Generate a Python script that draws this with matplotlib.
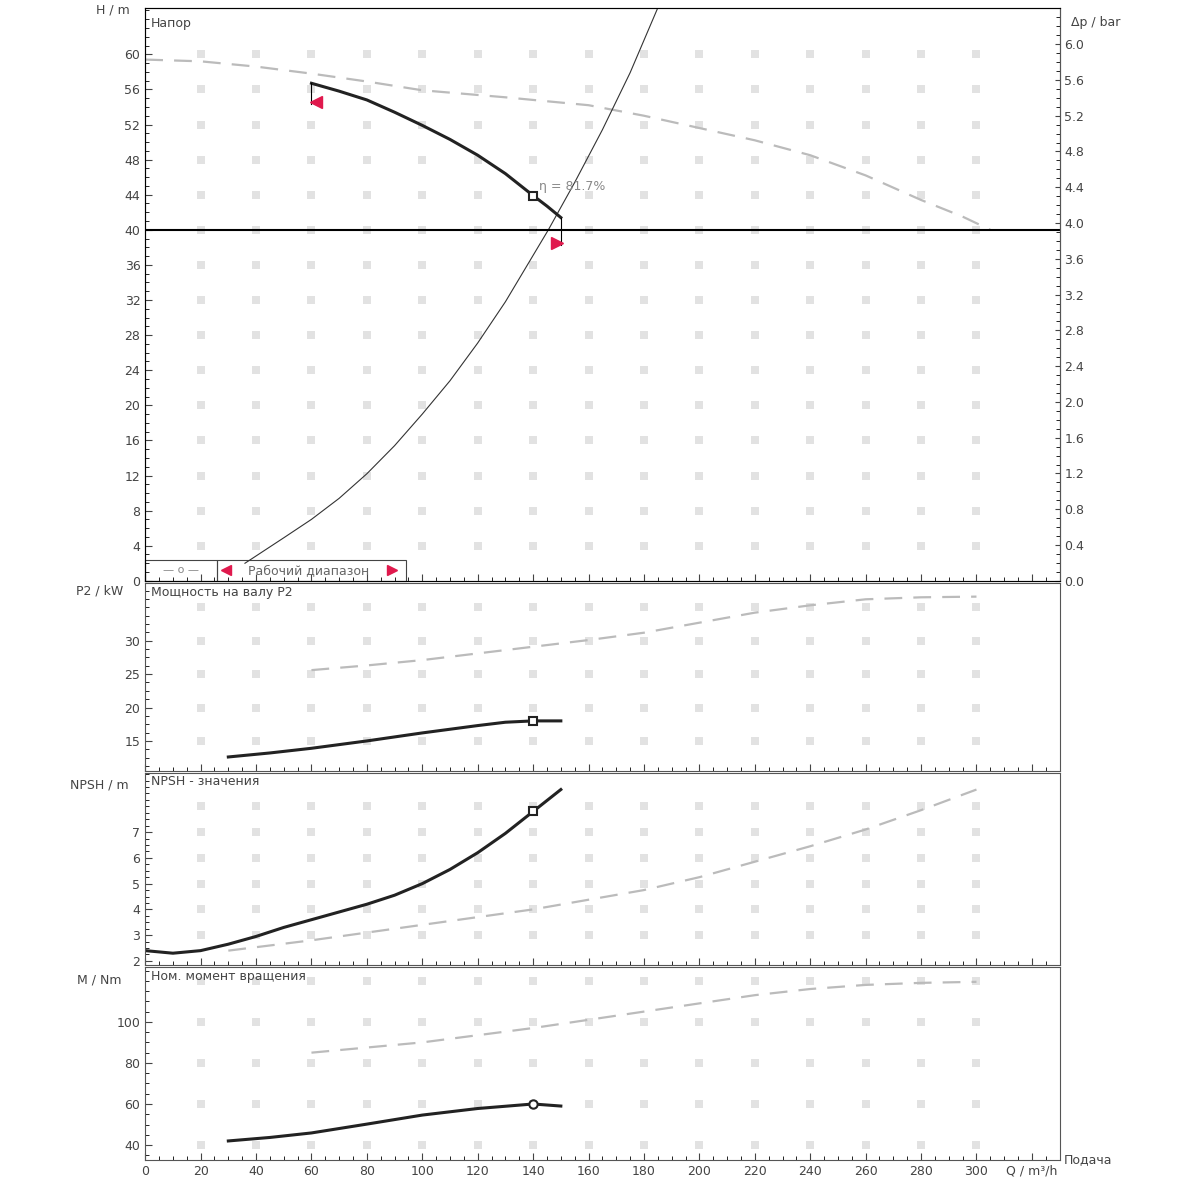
import matplotlib
matplotlib.use("Agg")
import matplotlib.pyplot as plt
import numpy as np
from matplotlib.ticker import MultipleLocator, AutoMinorLocator, FixedLocator

# ---- data ----
q_full_h = [0, 20, 40, 60, 80, 100, 130, 160, 180, 200, 220, 240, 260, 280, 295, 305]
h_full = [59.4, 59.2, 58.6, 57.8, 56.9, 55.9, 55.1, 54.2, 53.0, 51.6, 50.2, 48.5, 46.2, 43.4, 41.5, 40.0]
q_red_h = [60, 70, 80, 90, 100, 110, 120, 130, 140, 145, 150]
h_red = [56.7, 55.8, 54.8, 53.4, 51.9, 50.3, 48.5, 46.4, 43.9, 42.7, 41.4]
q_sys = [36, 50, 60, 70, 80, 90, 100, 110, 120, 130, 145.5, 155, 165, 175, 185]
h_sys = [2.0, 4.9, 7.0, 9.4, 12.2, 15.4, 19.0, 22.8, 27.1, 31.8, 40.0, 45.4, 51.4, 57.9, 65.3]
q_op, h_op = 140, 43.9
eta_label = "η = 81.7%"

q_p_full = [60, 80, 100, 120, 140, 160, 180, 200, 220, 240, 260, 280, 300]
p_full = [25.6, 26.3, 27.1, 28.1, 29.1, 30.1, 31.2, 32.7, 34.2, 35.3, 36.2, 36.5, 36.6]
q_p_red = [30, 45, 60, 80, 100, 120, 130, 140, 150]
p_red = [12.6, 13.2, 13.9, 15.0, 16.2, 17.3, 17.8, 18.0, 18.0]
p_op = 18.0

q_n_red = [0, 10, 20, 30, 40, 50, 60, 70, 80, 90, 100, 110, 120, 130, 140, 150]
n_red = [2.4, 2.3, 2.4, 2.65, 2.95, 3.3, 3.6, 3.9, 4.2, 4.55, 5.0, 5.55, 6.2, 6.95, 7.8, 8.65]
q_n_full = [30, 60, 100, 140, 180, 200, 220, 240, 260, 280, 300]
n_full = [2.4, 2.8, 3.4, 4.0, 4.75, 5.25, 5.85, 6.45, 7.1, 7.85, 8.65]
n_op = 7.8

q_m_red = [30, 45, 60, 80, 100, 120, 140, 150]
m_red = [42, 43.7, 45.9, 50.2, 54.6, 57.8, 60, 59]
q_m_full = [60, 80, 100, 120, 140, 160, 180, 200, 220, 240, 260, 280, 300]
m_full = [85, 87.5, 90, 93.5, 97, 101, 105, 109, 113, 116, 118, 119, 119.5]
m_op = 60

x_ticks = list(range(0, 301, 20))

fig = plt.figure(figsize=(12, 12), dpi=100)
L, W = 0.121, 0.762
axH = fig.add_axes([L, 0.516, W, 0.4775])
axP = fig.add_axes([L, 0.3575, W, 0.157])
axN = fig.add_axes([L, 0.196, W, 0.16])
axM = fig.add_axes([L, 0.0333, W, 0.161])

dash = dict(color="#bbbbbb", lw=1.6, ls=(0, (8, 5)))
solid = dict(color="#222222", lw=2.2)


def dots(ax, yvals):
    xs, ys = np.meshgrid(x_ticks[1:], yvals)
    ax.scatter(xs.ravel(), ys.ravel(), marker="s", s=40, color="#e2e2e2", lw=0, zorder=0)


for ax in (axH, axP, axN, axM):
    ax.set_xlim(0, 330)
    ax.xaxis.set_major_locator(MultipleLocator(20))
    ax.xaxis.set_minor_locator(MultipleLocator(5))
    ax.yaxis.set_minor_locator(AutoMinorLocator(4))
    ax.tick_params(labelsize=9, colors="#444444", direction="in", length=5)
    ax.tick_params(which="minor", direction="in", length=3)
    for s in ax.spines.values():
        s.set_color("#555555")
    if ax is not axM:
        ax.tick_params(labelbottom=False)

# Head
axH.set_ylim(0, 65.3)
axH.yaxis.set_major_locator(FixedLocator(list(range(0, 61, 4))))
axH.yaxis.set_minor_locator(MultipleLocator(1))
dots(axH, list(range(4, 61, 4)))
axH.plot(q_full_h, h_full, **dash)
axH.plot(q_sys, h_sys, color="#333333", lw=0.8)
axH.plot(q_red_h, h_red, **solid)
axH.axhline(40, color="black", lw=1.5)
axH.plot(q_op, h_op, "s", mfc="white", mec="#222222", ms=6, mew=1.5)
axH.text(q_op + 2, h_op + 0.6, eta_label, fontsize=9, color="#888888")
axH.plot([60, 60], [56.7, 54.3], color="black", lw=0.8)
axH.plot(61.5, 54.6, "<", color="#e0194d", ms=8)
axH.plot([150, 150], [41.4, 38.3], color="black", lw=0.8)
axH.plot(148.5, 38.5, ">", color="#e0194d", ms=8)
axH.text(2, 64.3, "Напор", fontsize=9, va="top", color="#444444")
axH.set_ylabel("H / m", rotation=0, fontsize=9, color="#444444")
axH.yaxis.set_label_coords(-0.035, 0.985)
axH.add_patch(plt.Rectangle((0, 0), 26, 2.4, fill=False, lw=0.8, ec="#444444", clip_on=False))
axH.add_patch(plt.Rectangle((26, 0), 68, 2.4, fill=False, lw=0.8, ec="#444444", clip_on=False))
axH.text(13, 1.2, "— o —", fontsize=8, ha="center", va="center", color="#888888")
axH.plot(29, 1.2, "<", color="#e0194d", ms=7)
axH.plot(89, 1.2, ">", color="#e0194d", ms=7)
axH.text(59, 1.2, "Рабочий диапазон", fontsize=9, ha="center", va="center", color="#666666")
axR = axH.twinx()
axR.set_ylim(0, 65.3 * 0.0981)
axR.yaxis.set_major_locator(FixedLocator([round(0.4 * i, 1) for i in range(16)]))
axR.yaxis.set_minor_locator(MultipleLocator(0.1))
axR.tick_params(labelsize=9, colors="#444444", direction="in")
axR.tick_params(which="minor", direction="in", length=3)
axR.set_ylabel("Δp / bar", rotation=0, fontsize=9, color="#444444")
axR.yaxis.set_label_coords(1.04, 0.985)
axR.spines["right"].set_color("#555555")

# Power
axP.set_ylim(10.5, 38.7)
axP.set_yticks([15, 20, 25, 30])
dots(axP, [15, 20, 25, 30, 35])
axP.plot(q_p_full, p_full, **dash)
axP.plot(q_p_red, p_red, **solid)
axP.plot(q_op, p_op, "s", mfc="white", mec="#222222", ms=6, mew=1.5)
axP.text(2, 38.2, "Мощность на валу P2", fontsize=9, va="top", color="#444444")
axP.set_ylabel("P2 / kW", rotation=0, fontsize=9, color="#444444")
axP.yaxis.set_label_coords(-0.05, 0.92)

# NPSH
axN.set_ylim(1.85, 9.3)
axN.set_yticks([2, 3, 4, 5, 6, 7])
dots(axN, [3, 4, 5, 6, 7, 8])
axN.plot(q_n_full, n_full, **dash)
axN.plot(q_n_red, n_red, **solid)
axN.plot(q_op, n_op, "s", mfc="white", mec="#222222", ms=6, mew=1.5)
axN.text(2, 9.2, "NPSH - значения", fontsize=9, va="top", color="#444444")
axN.set_ylabel("NPSH / m", rotation=0, fontsize=9, color="#444444")
axN.yaxis.set_label_coords(-0.05, 0.9)

# Torque
axM.set_ylim(32.7, 126.8)
axM.set_yticks([40, 60, 80, 100])
dots(axM, [40, 60, 80, 100, 120])
axM.plot(q_m_full, m_full, **dash)
axM.plot(q_m_red, m_red, **solid)
axM.plot(q_op, m_op, "o", mfc="white", mec="#222222", ms=6, mew=1.5)
axM.text(2, 125.5, "Ном. момент вращения", fontsize=9, va="top", color="#444444")
axM.set_ylabel("M / Nm", rotation=0, fontsize=9, color="#444444")
axM.yaxis.set_label_coords(-0.05, 0.9)
axM.set_xticks(x_ticks + [320])
axM.set_xticklabels([str(t) for t in x_ticks] + ["Q / m³/h"])
axM.text(1.005, 0.0, "Подача", transform=axM.transAxes, fontsize=9, va="center", color="#444444")

fig.savefig("out.png", dpi=100)
